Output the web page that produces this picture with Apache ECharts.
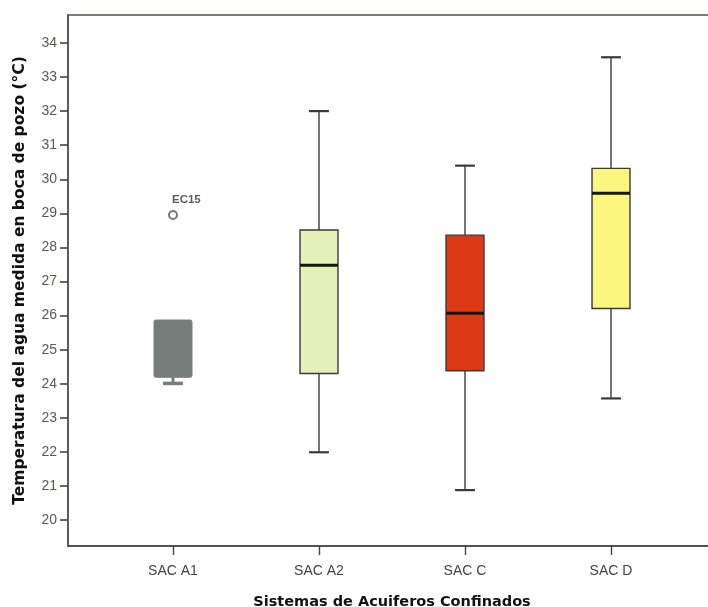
<!DOCTYPE html>
<html>
<head>
<meta charset="utf-8">
<style>
  html, body { margin: 0; padding: 0; background: #ffffff; }
  #chart { width: 708px; height: 607px; }
</style>
<script src="https://cdn.jsdelivr.net/npm/echarts@6/dist/echarts.min.js"></script>
</head>
<body>
<div id="chart"></div>
<script>
// Groups of confined aquifer systems
const categories = ['SAC A1', 'SAC A2', 'SAC C', 'SAC D'];
// Box statistics per group (°C)
const lowerWhisker = [24.01, 21.99, 20.88, 23.57];
const q1 = [24.19, 24.30, 24.38, 26.21];
const median = [25.00, 27.48, 26.07, 29.59];
const q3 = [25.87, 28.51, 28.36, 30.32];
const upperWhisker = [25.87, 32.00, 30.40, 33.58];
const boxColors = ['#737e7b', '#e4f1b9', '#dc3a12', '#fbf67e'];
// Outlier cases: [group index, value, case label]
const outliers = [[0, 28.95, 'EC15']];
// Temperature tick labels
const yTicks = [20, 21, 22, 23, 24, 25, 26, 27, 28, 29, 30, 31, 32, 33, 34];

const boxData = categories.map((c, i) => [i + 1, lowerWhisker[i], q1[i], median[i], q3[i], upperWhisker[i]]);
const xTicks = categories.map((c, i) => i + 1);

const chart = echarts.init(document.getElementById('chart'));

function renderBox(params, api) {
  const i = params.dataIndex;
  const x = api.value(0);
  const pLow = api.coord([x, api.value(1)]);
  const pQ1 = api.coord([x, api.value(2)]);
  const pMed = api.coord([x, api.value(3)]);
  const pQ3 = api.coord([x, api.value(4)]);
  const pHigh = api.coord([x, api.value(5)]);
  const band = api.size([1, 0])[0];
  const halfBox = band * 0.13;
  const halfCap = band * 0.068;
  const cx = pQ1[0];
  const muted = i === 0;
  const lineCol = muted ? boxColors[0] : '#3a3a3a';
  const children = [];
  if (pLow[1] - pQ1[1] > 0.5) {
    children.push({ type: 'line', shape: { x1: cx, y1: pQ1[1], x2: cx, y2: pLow[1] }, style: { stroke: lineCol, lineWidth: muted ? 3 : 1.4 } });
  }
  children.push({ type: 'line', shape: { x1: cx - halfCap, y1: pLow[1], x2: cx + halfCap, y2: pLow[1] }, style: { stroke: lineCol, lineWidth: muted ? 3.5 : 2.2 } });
  if (pQ3[1] - pHigh[1] > 0.5) {
    children.push({ type: 'line', shape: { x1: cx, y1: pHigh[1], x2: cx, y2: pQ3[1] }, style: { stroke: lineCol, lineWidth: 1.4 } });
    children.push({ type: 'line', shape: { x1: cx - halfCap, y1: pHigh[1], x2: cx + halfCap, y2: pHigh[1] }, style: { stroke: lineCol, lineWidth: 2.2 } });
  }
  children.push({
    type: 'rect',
    shape: { x: cx - halfBox, y: pQ3[1], width: halfBox * 2, height: pQ1[1] - pQ3[1], r: muted ? 2 : 0 },
    style: { fill: boxColors[i], stroke: muted ? boxColors[0] : '#3a3a3a', lineWidth: muted ? 1 : 1.4 }
  });
  if (!muted) {
    children.push({ type: 'line', shape: { x1: cx - halfBox, y1: pMed[1], x2: cx + halfBox, y2: pMed[1] }, style: { stroke: '#151515', lineWidth: 3 } });
  }
  return { type: 'group', children: children };
}

chart.setOption({
  backgroundColor: '#ffffff',
  animation: false,
  grid: {
    left: 68, top: 15, width: 648, bottom: 61,
    outerBoundsMode: 'none',
    containLabel: false,
    show: true, borderColor: '#7d7d72', borderWidth: 2, backgroundColor: '#ffffff'
  },
  xAxis: {
    type: 'value',
    min: 1 - 105 / 146,
    max: categories.length + 105 / 146,
    splitLine: { show: false },
    axisLine: { show: true, onZero: false, lineStyle: { color: '#444', width: 1.6 } },
    axisTick: { show: true, customValues: xTicks, length: 9, lineStyle: { color: '#444', width: 1.4 } },
    axisLabel: {
      customValues: xTicks, margin: 18, color: '#444', fontSize: 14,
      fontFamily: 'Liberation Sans, Arial',
      formatter: v => categories[Math.round(v) - 1] || ''
    },
    name: 'Sistemas de Acuiferos Confinados',
    nameLocation: 'middle', nameGap: 49,
    nameTextStyle: { fontWeight: 'bold', fontSize: 14.5, color: '#111', fontFamily: 'DejaVu Sans, Liberation Sans' }
  },
  yAxis: {
    type: 'value',
    min: 19.24, max: 34.82,
    splitLine: { show: false },
    axisLine: { show: true, lineStyle: { color: '#555', width: 1.6 } },
    axisTick: { show: true, customValues: yTicks, length: 8, lineStyle: { color: '#444', width: 1.6 } },
    axisLabel: {
      customValues: yTicks, margin: 11, color: '#5a5a52', fontSize: 14,
      fontFamily: 'Liberation Sans, Arial'
    },
    name: 'Temperatura del agua medida en boca de pozo (°C)',
    nameLocation: 'middle', nameGap: 40,
    nameTextStyle: { fontWeight: 'bold', fontSize: 15.5, color: '#111', fontFamily: 'DejaVu Sans, Liberation Sans' }
  },
  series: [
    {
      type: 'custom',
      renderItem: renderBox,
      data: boxData,
      encode: { x: 0, y: [1, 2, 3, 4, 5] },
      z: 2
    },
    {
      type: 'scatter',
      data: outliers.map(o => ({ value: [o[0] + 1, o[1]], name: o[2] })),
      symbol: 'emptyCircle',
      symbolSize: 8,
      itemStyle: { color: '#555', borderWidth: 2 },
      label: {
        show: true, formatter: p => p.name, position: [4, -16],
        fontSize: 11.5, fontWeight: 'bold', color: '#333', fontFamily: 'Liberation Sans, Arial'
      },
      z: 3
    }
  ]
});
</script>
</body>
</html>
